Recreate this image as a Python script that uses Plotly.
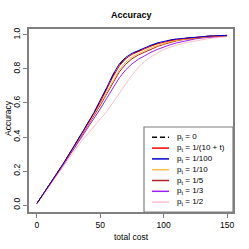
import plotly.graph_objects as go

# ---- data ----
cost = list(range(0, 151, 5))

acc_p0 = [0.01, 0.065, 0.12, 0.177, 0.234, 0.294, 0.354, 0.416, 0.478, 0.542, 0.61, 0.684, 0.762, 0.825, 0.865, 0.89,
          0.906, 0.923, 0.938, 0.951, 0.961, 0.969, 0.975, 0.979, 0.983, 0.986, 0.989, 0.992, 0.994, 0.996, 0.997]
acc_inv10t = [0.01, 0.065, 0.12, 0.177, 0.234, 0.293, 0.353, 0.415, 0.477, 0.54, 0.607, 0.68, 0.755, 0.818, 0.86, 0.886,
              0.903, 0.92, 0.935, 0.948, 0.958, 0.966, 0.973, 0.978, 0.982, 0.986, 0.989, 0.992, 0.994, 0.996, 0.997]
acc_100 = [0.01, 0.065, 0.12, 0.178, 0.235, 0.295, 0.355, 0.418, 0.48, 0.545, 0.615, 0.69, 0.768, 0.83, 0.868, 0.892,
           0.908, 0.925, 0.94, 0.953, 0.963, 0.97, 0.976, 0.98, 0.984, 0.987, 0.99, 0.993, 0.995, 0.997, 0.998]
acc_10 = [0.01, 0.064, 0.119, 0.175, 0.232, 0.29, 0.349, 0.41, 0.47, 0.532, 0.596, 0.665, 0.735, 0.795, 0.84, 0.87,
          0.89, 0.908, 0.924, 0.938, 0.95, 0.96, 0.968, 0.974, 0.979, 0.983, 0.987, 0.99, 0.993, 0.995, 0.997]
acc_5 = [0.01, 0.064, 0.118, 0.174, 0.23, 0.288, 0.346, 0.405, 0.464, 0.525, 0.588, 0.655, 0.722, 0.783, 0.828, 0.86,
         0.882, 0.9, 0.917, 0.932, 0.945, 0.956, 0.965, 0.972, 0.977, 0.982, 0.986, 0.989, 0.992, 0.994, 0.996]
acc_3 = [0.01, 0.063, 0.117, 0.172, 0.227, 0.283, 0.339, 0.395, 0.451, 0.508, 0.566, 0.627, 0.69, 0.748, 0.795, 0.83,
         0.857, 0.878, 0.898, 0.915, 0.93, 0.942, 0.953, 0.962, 0.97, 0.977, 0.982, 0.986, 0.99, 0.993, 0.995]
acc_2 = [0.01, 0.062, 0.115, 0.168, 0.221, 0.274, 0.327, 0.374, 0.418, 0.46, 0.502, 0.55, 0.603, 0.657, 0.712, 0.765,
         0.81, 0.845, 0.872, 0.895, 0.914, 0.928, 0.94, 0.95, 0.958, 0.966, 0.972, 0.978, 0.983, 0.987, 0.99]

labels = ["p<sub>t</sub> = 0", "p<sub>t</sub> = 1/(10 + t)", "p<sub>t</sub> = 1/100", "p<sub>t</sub> = 1/10",
          "p<sub>t</sub> = 1/5", "p<sub>t</sub> = 1/3", "p<sub>t</sub> = 1/2"]
series = [acc_p0, acc_inv10t, acc_100, acc_10, acc_5, acc_3, acc_2]
colors = ["#000000", "#FF0000", "#0000CD", "#FFBF40", "#B22222", "#A020F0", "#FFC0CB"]
dashes = ["dash", "solid", "solid", "solid", "solid", "solid", "solid"]

x_ticks = [0, 50, 100, 150]
y_ticks = [0.0, 0.2, 0.4, 0.6, 0.8, 1.0]

FONT = "Liberation Sans, Arial, sans-serif"
AXC = "#808080"

fig = go.Figure()
draw_order = [0, 6, 5, 4, 3, 1, 2]
for i in draw_order:
    fig.add_trace(go.Scatter(x=cost, y=series[i], mode="lines", name=labels[i], showlegend=False,
                             line=dict(color=colors[i], width=1.0, dash=dashes[i])))

# plot area geometry (pixels)
L, R, T, B = 29, 233, 29, 212
W, H = R - L, B - T

def px(xp):
    return (xp - L) / W

def py(yp):
    return (B - yp) / H

shapes = [dict(type="rect", xref="paper", yref="paper", x0=px(144), x1=1, y0=0, y1=py(127),
               line=dict(color=AXC, width=1.2), fillcolor="white", layer="above")]
annotations = []
row0, step = 137.3, 10.8
for k, lab in enumerate(labels):
    yy = py(row0 + k * step)
    shapes.append(dict(type="line", xref="paper", yref="paper", x0=px(152), x1=px(169), y0=yy, y1=yy,
                       line=dict(color=colors[k], width=1.5, dash="5px,3px" if dashes[k] == "dash" else "solid"),
                       layer="above"))
    annotations.append(dict(xref="paper", yref="paper", x=px(175), y=yy, text=lab, showarrow=False,
                            xanchor="left", yanchor="middle", font=dict(size=8, color="black", family=FONT)))

annotations.append(dict(xref="paper", yref="paper", x=px(131.5), y=py(237), text="total cost", showarrow=False,
                        xanchor="center", yanchor="middle", font=dict(size=8.5, color="black", family=FONT)))
annotations.append(dict(xref="paper", yref="paper", x=px(8), y=py(118), text="Accuracy", showarrow=False,
                        textangle=-90, xanchor="center", yanchor="middle",
                        font=dict(size=8.5, color="black", family=FONT)))
annotations.append(dict(xref="paper", yref="paper", x=px(131.5), y=py(15), text="<b>Accuracy</b>", showarrow=False,
                        xanchor="center", yanchor="middle", font=dict(size=9, color="black", family=FONT)))

fig.update_layout(
    width=249, height=249,
    margin=dict(l=L, r=249 - R, t=T, b=249 - B, pad=0),
    paper_bgcolor="white", plot_bgcolor="white",
    showlegend=False,
    shapes=shapes, annotations=annotations,
    xaxis=dict(range=[-6.3, 154.7], tickvals=x_ticks, ticktext=[str(v) for v in x_ticks],
               showgrid=False, zeroline=False, showline=True, mirror=True, linecolor=AXC, linewidth=1.5,
               ticks="outside", ticklen=4, tickcolor=AXC, tickwidth=1,
               tickfont=dict(size=8.5, color="black", family=FONT)),
    yaxis=dict(range=[-0.041, 1.035], tickvals=y_ticks, ticktext=["%.1f" % v for v in y_ticks],
               showgrid=False, zeroline=False, showline=True, mirror=True, linecolor=AXC, linewidth=1.5,
               ticks="outside", ticklen=4, tickcolor=AXC, tickwidth=1, tickangle=-90,
               tickfont=dict(size=8.5, color="black", family=FONT)),
)

fig.write_html("out.html", config={"displayModeBar": False},
               post_script="document.body.style.margin='0px';document.body.style.overflow='hidden';")
